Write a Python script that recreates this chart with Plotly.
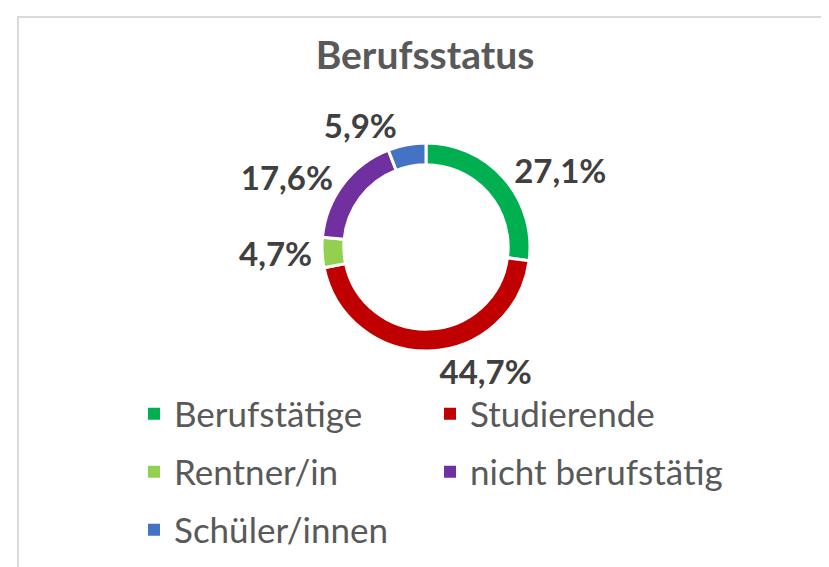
import plotly.graph_objects as go

W, H = 829, 567
labels = ["Berufstätige", "Studierende", "Rentner/in", "nicht berufstätig", "Schüler/innen"]
values = [27.1, 44.7, 4.7, 17.6, 5.9]
colors = ["#00B050", "#C00000", "#92D050", "#7030A0", "#4472C4"]

cx, cy, r = 418, 239, 104

fig = go.Figure(go.Pie(
    labels=labels, values=values, sort=False, direction="clockwise", rotation=0,
    hole=0.79,
    marker=dict(colors=colors, line=dict(color="white", width=3)),
    textposition="outside", texttemplate="%{percent:.1%}",
    textfont=dict(family="Lato", size=33, color="#404040", weight="bold"),
    domain=dict(x=[(cx - r) / W, (cx + r) / W], y=[1 - (cy + r) / H, 1 - (cy - r) / H]),
    showlegend=False,
))

# legend entries (two per row, rows as separate legends)
legend_names = ["legend", "legend2", "legend3"]
for i, (lab, col) in enumerate(zip(labels, colors)):
    fig.add_trace(go.Scatter(
        x=[None], y=[None], mode="markers", name=lab,
        marker=dict(symbol="square", size=12, color=col),
        legend=legend_names[i // 2], showlegend=True,
    ))

row_y = [406, 464, 522]
leg_common = dict(orientation="h", x=126 / W, xanchor="left", yanchor="middle",
                  entrywidth=251, entrywidthmode="pixels", bgcolor="rgba(0,0,0,0)",
                  font=dict(family="Lato", size=35, color="#595959"), traceorder="normal")

fig.update_layout(
    width=W, height=H,
    margin=dict(l=0, r=0, t=0, b=0),
    separators=",.",
    paper_bgcolor="white", plot_bgcolor="white",
    xaxis=dict(visible=False), yaxis=dict(visible=False),
    title=dict(text="<b>Berufsstatus</b>", x=0.503, xanchor="center", y=1 - 47 / H, yanchor="middle",
               font=dict(family="Lato", size=39, color="#595959")),
    legend=dict(y=1 - row_y[0] / H, **leg_common),
    legend2=dict(y=1 - row_y[1] / H, **leg_common),
    legend3=dict(y=1 - row_y[2] / H, **leg_common),
    shapes=[dict(type="rect", xref="paper", yref="paper", x0=10 / W, x1=1.02, y0=-0.02, y1=1 - 9 / H,
                 line=dict(color="#D9D9D9", width=2), fillcolor="rgba(0,0,0,0)")],
)
fig.write_html("out.html")
